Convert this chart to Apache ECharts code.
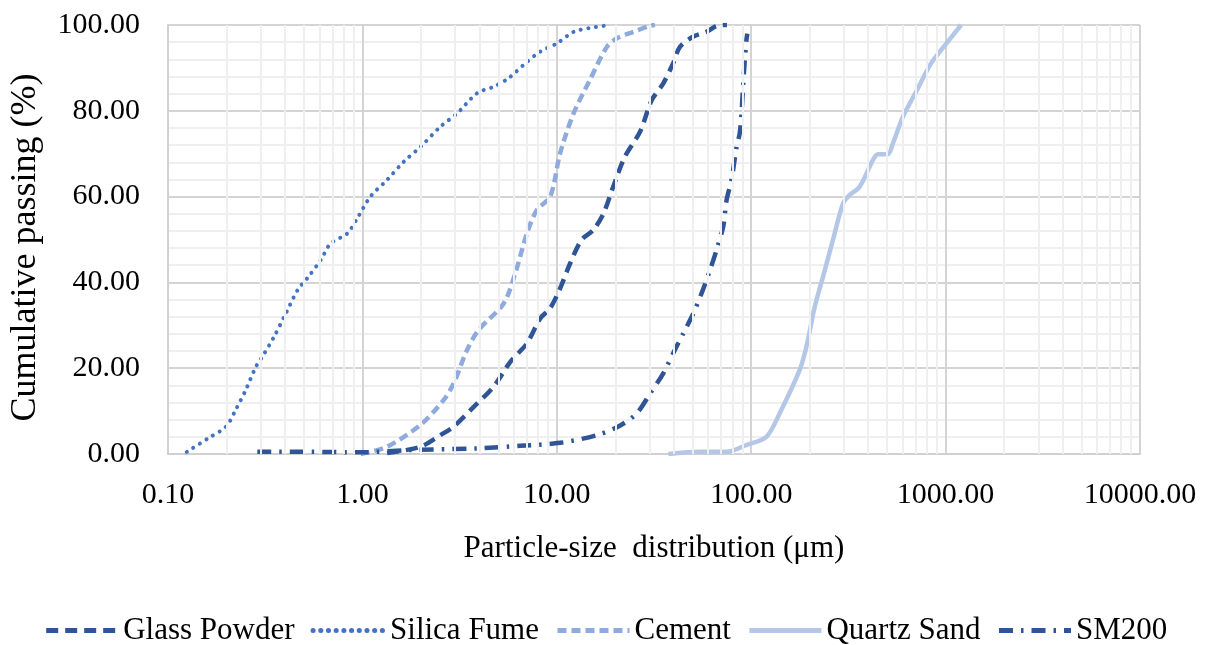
<!DOCTYPE html>
<html>
<head>
<meta charset="utf-8">
<script src="https://cdn.jsdelivr.net/npm/echarts@6/dist/echarts.min.js"></script>
<style>
html,body{margin:0;padding:0;background:#fff;}
#chart{width:1211px;height:645px;}
</style>
</head>
<body>
<div id="chart"></div>
<script>
// ---- data (particle size in µm, cumulative passing in %) ----
const seriesNames = ['Glass Powder', 'Silica Fume', 'Cement', 'Quartz Sand', 'SM200'];

const glassPowderSize = [1.34,1.99,2.52,2.95,3.74,4.73,5.77,7.02,8.22,9.25,10.4,11.7,13.4,15.4,17.4,19.5,22.4,26.8,30.8,35.3,39.7,43.0,50.4,59.0,66.4,75];
const glassPowderPass = [0.2,1.7,4.4,6.4,11.0,15.7,21.5,25.8,31.6,34.0,38.6,44.4,49.9,52.2,56.1,62.3,69.3,75.1,82.5,86.4,91.1,94.9,97.3,98.4,99.8,100];

const silicaFumeSize = [0.125,0.16,0.199,0.223,0.251,0.283,0.306,0.351,0.404,0.464,0.521,0.61,0.687,0.836,0.94,1.1,1.34,1.63,1.99,2.52,3.07,3.89,4.73,5.65,7.02,8.22,10.0,12.2,14.8,18.8];
const silicaFumePass = [0.5,3.6,6.4,10.3,14.9,20.3,22.7,27.3,32.8,38.2,41.0,45.2,49.1,51.4,54.9,60.0,63.9,68.1,71.6,76.3,79.4,84.1,85.6,87.6,91.4,93.8,95.7,98.4,99.3,100];

const cementSize = [0.98,1.34,1.99,2.62,2.95,3.45,3.96,5.33,6.11,7.02,7.9,9.25,10.4,12.2,14.8,18.1,20.4,24.8,30.2,32];
const cementPass = [0,1.7,6.8,12.6,16.5,24.2,28.9,35.1,42.1,51.4,56.9,60.0,70.1,79.4,87.2,94.9,96.9,98.4,99.8,100];

const quartzSandSize = [37.5,54.5,74.7,94.6,119.7,140.2,177.6,192.3,212.2,234,263.4,296.7,321.4,361.5,422.7,448.7,505,535.6,603,706,843,966,1202];
const quartzSandPass = [0,0.5,0.5,2.1,4.0,9.5,19.6,25.0,34.3,41.3,49.9,58.4,60.4,62.3,68.5,69.9,69.9,72.4,78.6,84.5,91.1,94.6,100];

const sm200Size = [0.288,0.54,0.98,1.7,3.89,6.49,10.4,16.1,21.1,25.8,30.2,35.3,39.7,44.7,50.4,55.6,61.4,66.4,71.8,74.7,79.2,84.1,87.3,89.1,90.8,92.7,94.5,95.5];
const sm200Pass = [0.5,0.5,0.4,0.9,1.3,1.9,2.6,4.4,6.6,9.5,14.1,18.8,23.5,28.1,32.8,37.5,42.9,47.6,53.0,59.2,63.9,71.6,74.8,79.4,85.6,91.8,96.5,98];

const xTickValues = [0.1, 1, 10, 100, 1000, 10000];
const yTickValues = [0, 20, 40, 60, 80, 100];

// ---- helpers ----
function zip(a, b) { return a.map((v, i) => [v, b[i]]); }
const minorX = [];
for (let d = 0; d < xTickValues.length - 1; d++) {
  for (let m = 2; m <= 9; m++) minorX.push({ xAxis: xTickValues[d] * m });
}

const FONT = 'Liberation Serif';
const chart = echarts.init(document.getElementById('chart'));

function lineSeries(name, size, pass, color, type, width, cap) {
  return {
    name: name,
    type: 'line',
    data: zip(size, pass),
    showSymbol: false,
    symbol: 'none',
    smooth: 0.3,
    z: 3,
    lineStyle: { color: color, width: width, type: type, cap: cap || 'butt', join: 'round' },
    itemStyle: { color: color }
  };
}

chart.setOption({
  animation: false,
  backgroundColor: '#ffffff',
  grid: { left: 167, right: 71, top: 25, bottom: 191, containLabel: false },
  legend: {
    data: seriesNames,
    left: 'center',
    top: 610,
    itemWidth: 72,
    itemHeight: 14,
    itemGap: 16,
    itemStyle: { opacity: 0 },
    lineStyle: { width: 5 },
    textStyle: { fontFamily: FONT, fontSize: 31, color: '#000' }
  },
  xAxis: {
    type: 'log',
    logBase: 10,
    min: 0.1,
    max: 10000,
    name: 'Particle-size  distribution (\u03bcm)',
    nameLocation: 'middle',
    nameGap: 79,
    nameTextStyle: { fontFamily: FONT, fontSize: 31, color: '#000' },
    axisLine: { show: true, lineStyle: { color: '#D0D0D0', width: 2 } },
    axisTick: { show: false },
    axisLabel: {
      fontFamily: FONT, fontSize: 30, color: '#000', margin: 26,
      formatter: function (v) { return Number(v).toFixed(2); }
    },
    splitLine: { show: true, lineStyle: { color: '#D4D4D4', width: 2 } }
  },
  yAxis: {
    type: 'value',
    min: 0,
    max: 100,
    interval: 20,
    name: 'Cumulative passing (%)',
    nameLocation: 'middle',
    nameGap: 124,
    nameTextStyle: { fontFamily: FONT, fontSize: 36, color: '#000', padding: [0, 16, 0, 0] },
    axisLine: { show: true, lineStyle: { color: '#D0D0D0', width: 2 } },
    axisTick: { show: false },
    axisLabel: {
      fontFamily: FONT, fontSize: 30, color: '#000', margin: 28,
      formatter: function (v) { return v.toFixed(2); }
    },
    splitLine: { show: true, lineStyle: { color: '#D4D4D4', width: 2 } },
    minorTick: { show: false, splitNumber: 5 },
    minorSplitLine: { show: true, lineStyle: { color: '#EFEFEF', width: 2 } }
  },
  series: [
    {
      name: 'minor-grid',
      type: 'line',
      data: [],
      silent: true,
      z: 1,
      markLine: {
        silent: true,
        symbol: ['none', 'none'],
        label: { show: false },
        lineStyle: { color: '#EFEFEF', width: 2, type: 'solid' },
        emphasis: { disabled: true },
        data: minorX
      }
    },
    lineSeries('Glass Powder', glassPowderSize, glassPowderPass, '#2F5597', [12, 7], 4.5),
    lineSeries('Silica Fume', silicaFumeSize, silicaFumePass, '#4472C4', [0.1, 7.6], 4, 'round'),
    lineSeries('Cement', cementSize, cementPass, '#8FAADC', [9, 5], 4.5),
    lineSeries('Quartz Sand', quartzSandSize, quartzSandPass, '#B4C7E7', 'solid', 4.5),
    lineSeries('SM200', sm200Size, sm200Pass, '#2F5597', [14, 8, 2.5, 8], 4.5)
  ]
});
</script>
</body>
</html>
